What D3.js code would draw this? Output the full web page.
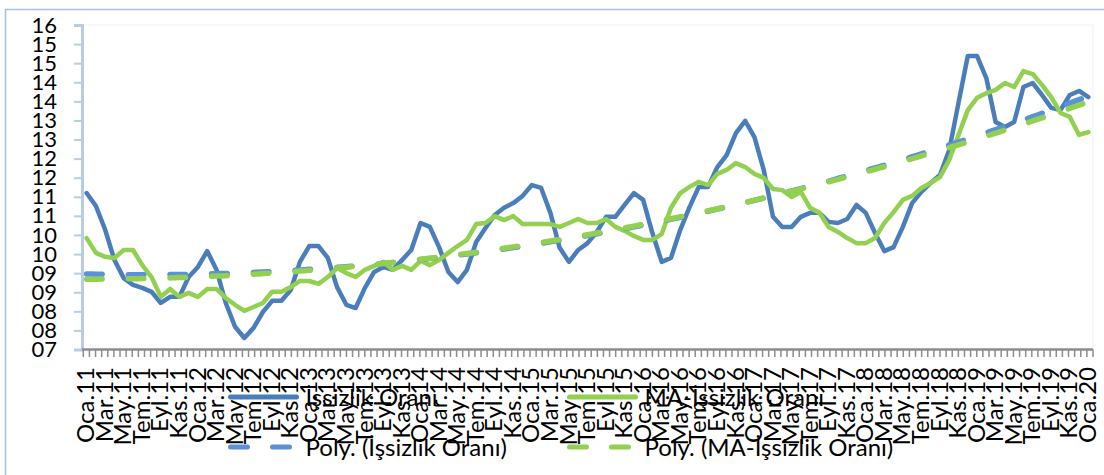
<!DOCTYPE html>
<html>
<head>
<meta charset="utf-8">
<script src="https://cdn.jsdelivr.net/npm/d3@7"></script>
<style>
  body { margin: 0; background: #fff; }
  svg { display: block; font-family: Lato, "Open Sans", sans-serif; }
</style>
</head>
<body>
<svg id="chart" width="1104" height="475"></svg>
<script>
// month names for the category axis
var monthNames = ["Oca", "Şub", "Mar", "Nis", "May", "Haz", "Tem", "Ağu", "Eyl", "Eki", "Kas", "Ara"];
var categories = d3.range(109).map(function (i) {
    return monthNames[i % 12] + "." + (11 + Math.floor(i / 12));
});

// İşsizlik Oranı
var issizlik = [
    11.34, 10.98, 10.32, 9.48, 8.98, 8.79, 8.71, 8.60, 8.29, 8.46, 8.46, 9.01,
    9.29, 9.73, 9.21, 8.29, 7.63, 7.32, 7.60, 8.04, 8.35, 8.35, 8.65, 9.43,
    9.87, 9.87, 9.54, 8.73, 8.24, 8.15, 8.71, 9.15, 9.29, 9.21, 9.48, 9.76,
    10.51, 10.40, 9.84, 9.15, 8.87, 9.21, 9.98, 10.37, 10.73, 10.93, 11.06, 11.26,
    11.56, 11.48, 10.79, 9.82, 9.43, 9.76, 9.95, 10.26, 10.68, 10.68, 11.01, 11.34,
    11.15, 10.23, 9.43, 9.54, 10.32, 10.95, 11.51, 11.51, 12.06, 12.39, 13.00, 13.34,
    12.89, 11.98, 10.68, 10.40, 10.40, 10.68, 10.79, 10.79, 10.54, 10.51, 10.62, 11.01,
    10.79, 10.23, 9.73, 9.84, 10.40, 11.06, 11.37, 11.62, 11.84, 12.53, 13.84, 15.14,
    15.14, 14.53, 13.31, 13.17, 13.31, 14.28, 14.39, 14.06, 13.70, 13.64, 14.06, 14.17,
    14.00
];

// MA-İşsizlik Oranı
var maIssizlik = [
    10.09, 9.68, 9.57, 9.54, 9.76, 9.76, 9.34, 9.01, 8.46, 8.68, 8.46, 8.57,
    8.46, 8.68, 8.68, 8.43, 8.24, 8.07, 8.18, 8.29, 8.60, 8.60, 8.73, 8.90,
    8.90, 8.82, 9.01, 9.26, 9.12, 9.01, 9.21, 9.32, 9.43, 9.21, 9.32, 9.21,
    9.46, 9.34, 9.48, 9.68, 9.87, 10.04, 10.48, 10.51, 10.70, 10.59, 10.70, 10.48,
    10.48, 10.48, 10.48, 10.40, 10.51, 10.62, 10.51, 10.51, 10.62, 10.40, 10.29, 10.15,
    10.04, 10.04, 10.20, 10.93, 11.34, 11.51, 11.65, 11.56, 11.87, 11.98, 12.17, 12.06,
    11.87, 11.76, 11.45, 11.42, 11.23, 11.37, 10.93, 10.79, 10.40, 10.26, 10.09, 9.95,
    9.95, 10.09, 10.51, 10.81, 11.15, 11.26, 11.48, 11.62, 11.78, 12.26, 12.95, 13.64,
    13.98, 14.11, 14.20, 14.39, 14.28, 14.72, 14.64, 14.34, 14.00, 13.56, 13.45, 12.95,
    13.03
];

var seriesNames = ["İşsizlik Oranı", "MA-İşsizlik Oranı"];
var trendNames = ["Poly. (İşsizlik Oranı)", "Poly. (MA-İşsizlik Oranı)"];

// y axis: 7..16 split into 17 steps, labels rounded to two digits
var yTickValues = d3.range(18).map(function (k) { return 7 + k * 9 / 17; });

var blue = "#4a7ebb", blueTrend = "#5a91d8", green = "#92d050";

// least squares polynomial fit (like the Excel trendline)
function polyFit(ys, order) {
    var m = order + 1;
    var A = d3.range(m).map(function () { return new Array(m + 1).fill(0); });
    ys.forEach(function (v, i) {
        var t = i + 1;
        for (var r = 0; r < m; r++) {
            for (var c = 0; c < m; c++) A[r][c] += Math.pow(t, r + c);
            A[r][m] += v * Math.pow(t, r);
        }
    });
    for (var p = 0; p < m; p++) {
        for (var r2 = p + 1; r2 < m; r2++) {
            var f = A[r2][p] / A[p][p];
            for (var c2 = p; c2 <= m; c2++) A[r2][c2] -= f * A[p][c2];
        }
    }
    var coef = new Array(m).fill(0);
    for (var r3 = m - 1; r3 >= 0; r3--) {
        var s = A[r3][m];
        for (var c3 = r3 + 1; c3 < m; c3++) s -= A[r3][c3] * coef[c3];
        coef[r3] = s / A[r3][r3];
    }
    return function (i) {
        var t = i + 1, v = 0;
        for (var k = 0; k < m; k++) v += coef[k] * Math.pow(t, k);
        return v;
    };
}

var svg = d3.select("#chart");
var plot = { left: 82, right: 1093, top: 25, bottom: 349.5 };

var x = d3.scaleLinear().domain([-0.5, categories.length - 0.5]).range([plot.left, plot.right]);
var y = d3.scaleLinear().domain([7, 16]).range([plot.bottom, plot.top]);

// outer chart border
svg.append("path")
    .attr("d", "M5.5,475 V9.5 H1104")
    .attr("fill", "none")
    .attr("stroke", "#a7bfe3")
    .attr("stroke-width", 1.5);

// faint plot area border
svg.append("rect")
    .attr("x", plot.left).attr("y", plot.top)
    .attr("width", plot.right - plot.left).attr("height", plot.bottom - plot.top)
    .attr("fill", "none")
    .attr("stroke", "#edf1f8");

// y axis
var yAxis = svg.append("g")
    .attr("transform", "translate(" + plot.left + ",0)")
    .call(d3.axisLeft(y).tickValues(yTickValues).tickFormat(d3.format("02.0f"))
        .tickSize(8).tickPadding(17));
yAxis.select(".domain").attr("stroke", "#b8cce8").attr("stroke-width", 3);
yAxis.selectAll(".tick line").attr("stroke", "#b8cce8").attr("stroke-width", 2);
yAxis.selectAll(".tick text")
    .attr("fill", "#000")
    .style("font-size", "22px")
    .style("font-family", "Lato, sans-serif");

// x axis line and minor ticks
var tickPos = d3.scaleLinear().domain([0, 165]).range([plot.left + 1.3, plot.right]);
svg.append("g").selectAll("line")
    .data(d3.range(166))
    .join("line")
    .attr("x1", function (k) { return tickPos(k); })
    .attr("x2", function (k) { return tickPos(k); })
    .attr("y1", plot.bottom)
    .attr("y2", plot.bottom + 7.5)
    .attr("stroke", "#8c8c8c")
    .attr("stroke-width", 1.5);
svg.append("line")
    .attr("x1", plot.left).attr("x2", plot.right)
    .attr("y1", plot.bottom).attr("y2", plot.bottom)
    .attr("stroke", "#8c8c8c")
    .attr("stroke-width", 2.5);

// x labels, every second month, rotated
svg.append("g").selectAll("text")
    .data(categories.filter(function (d, i) { return i % 2 === 0; }))
    .join("text")
    .attr("transform", function (d, k) {
        return "translate(" + (x(k * 2) - 1) + ",367) rotate(-90)";
    })
    .attr("text-anchor", "end")
    .attr("dy", "0.36em")
    .style("font-size", "24px")
    .text(function (d) { return d; });

// series lines
var line = d3.line()
    .x(function (d, i) { return x(i); })
    .y(function (d) { return y(d); });

svg.append("path").datum(issizlik)
    .attr("d", line)
    .attr("fill", "none").attr("stroke", blue)
    .attr("stroke-width", 4.5).attr("stroke-linejoin", "round").attr("stroke-linecap", "round");

svg.append("path").datum(maIssizlik)
    .attr("d", line)
    .attr("fill", "none").attr("stroke", green)
    .attr("stroke-width", 4.5).attr("stroke-linejoin", "round").attr("stroke-linecap", "round");

// polynomial trendlines
var fits = [polyFit(issizlik, 2), polyFit(maIssizlik, 2)];
var steps = d3.range(0, categories.length - 1 + 0.001, 0.5);
var trendLine = d3.line()
    .x(function (t) { return x(t); })
    .curve(d3.curveMonotoneX);

[blueTrend, green].forEach(function (col, s) {
    svg.append("path").datum(steps)
        .attr("d", trendLine.y(function (t) { return y(fits[s](t)); }))
        .attr("fill", "none").attr("stroke", col)
        .attr("stroke-width", 5.5)
        .attr("stroke-linecap", "round")
        .attr("stroke-dasharray", "15.5,26.2");
});

// legend
var legend = svg.append("g");
var legendItems = [
    { name: seriesNames[0], col: blue, dash: null, lx: 230.5, ly: 397 },
    { name: seriesNames[1], col: green, dash: null, lx: 569.5, ly: 397 },
    { name: trendNames[0], col: blueTrend, dash: "17,25", lx: 230.5, ly: 447 },
    { name: trendNames[1], col: green, dash: "17,25", lx: 569.5, ly: 447 }
];
legendItems.forEach(function (d) {
    legend.append("line")
        .attr("x1", d.lx).attr("x2", d.lx + (d.dash ? 59 : 66))
        .attr("y1", d.ly).attr("y2", d.ly)
        .attr("stroke", d.col).attr("stroke-width", 5)
        .attr("stroke-linecap", "round")
        .attr("stroke-dasharray", d.dash);
    legend.append("text")
        .attr("x", d.lx + 75).attr("y", d.ly)
        .attr("dy", "0.36em")
        .style("font-size", "24px")
        .text(d.name);
});
</script>
</body>
</html>
